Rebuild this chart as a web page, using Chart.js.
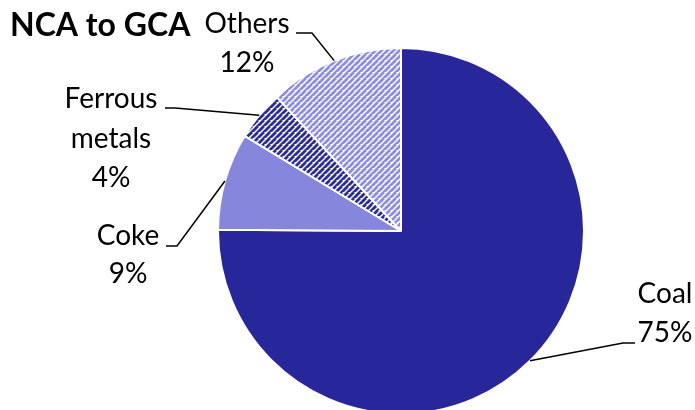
<!DOCTYPE html>
<html>
<head>
<meta charset="utf-8">
<script src="https://cdn.jsdelivr.net/npm/chart.js@4.4.0/dist/chart.umd.min.js"></script>
<style>
  html, body { margin: 0; padding: 0; background: #fff; overflow: hidden; }
  #wrap { width: 695px; height: 410px; position: relative; }
</style>
</head>
<body>
<div id="wrap"><canvas id="grafico"></canvas></div>
<script>
const categorias = ['Coal', 'Coke', 'Ferrous metals', 'Others'];
const valores = [75.1, 8.6, 4.4, 11.9];
const tituloGrafico = 'NCA to GCA';

const corCoal = '#28279A';
const corCoke = '#8686DC';
const corFerrousBase = '#2D2C9C';
const corOthersBase = '#8D8DE2';

// label layout (text lines, baselines, leader elbow/end) per slice
const rotulos = [
  { linhas: ['Coal', '75%'], x: 665, base: [303, 342], perna: [[623, 343], [635, 343]] },
  { linhas: ['Coke', '9%'], x: 128, base: [245, 283], perna: [[177, 246], [166, 246]] },
  { linhas: ['Ferrous', 'metals', '4%'], x: 111, base: [108, 148, 187], perna: [[175, 108], [165, 108]] },
  { linhas: ['Others', '12%'], x: 247, base: [33, 72], perna: [[312, 33], [296, 33]] }
];

function listras(cor) {
  const tile = document.createElement('canvas');
  tile.width = 6; tile.height = 6;
  const c = tile.getContext('2d');
  c.fillStyle = '#ffffff';
  c.fillRect(0, 0, 6, 6);
  c.strokeStyle = cor;
  c.lineWidth = 2.8;
  for (let k = -6; k <= 12; k += 6) {
    c.beginPath();
    c.moveTo(k - 6, 6 + 6);
    c.lineTo(k + 6, 6 - 6);
    c.stroke();
  }
  return document.createElement('canvas').getContext('2d').createPattern(tile, 'repeat');
}

const pluginTextos = {
  id: 'textos',
  afterDraw(chart) {
    const ctx = chart.ctx;
    const arcos = chart.getDatasetMeta(0).data;
    ctx.save();
    ctx.fillStyle = '#000';
    ctx.font = 'bold 32px Lato, "Open Sans", sans-serif';
    ctx.textAlign = 'left';
    ctx.textBaseline = 'alphabetic';
    ctx.fillText(tituloGrafico, 10, 36);

    ctx.font = '28px Lato, "Open Sans", sans-serif';
    ctx.textAlign = 'center';
    rotulos.forEach((r, i) => {
      const a = arcos[i];
      const meio = (a.startAngle + a.endAngle) / 2;
      const px = a.x + Math.cos(meio) * a.outerRadius;
      const py = a.y + Math.sin(meio) * a.outerRadius;
      ctx.strokeStyle = '#000';
      ctx.lineWidth = 1.5;
      ctx.beginPath();
      ctx.moveTo(px, py);
      r.perna.forEach(p => ctx.lineTo(p[0], p[1]));
      ctx.stroke();
      r.linhas.forEach((t, j) => ctx.fillText(t, r.x, r.base[j]));
    });
    ctx.restore();
  }
};

function graficoPizza() {
  const ctx = document.getElementById('grafico').getContext('2d');
  new Chart(ctx, {
    type: 'pie',
    data: {
      labels: categorias,
      datasets: [{
        data: valores,
        backgroundColor: [corCoal, corCoke, listras(corFerrousBase), listras(corOthersBase)],
        borderColor: '#ffffff',
        borderWidth: 2,
        radius: 183
      }]
    },
    options: {
      responsive: true,
      maintainAspectRatio: false,
      animation: false,
      layout: { padding: { left: 219, right: 112, top: 52, bottom: 0 } },
      plugins: {
        legend: { display: false },
        tooltip: { enabled: false },
        title: { display: false }
      }
    },
    plugins: [pluginTextos]
  });
}

window.onload = () => {
  graficoPizza()
}
</script>
</body>
</html>
